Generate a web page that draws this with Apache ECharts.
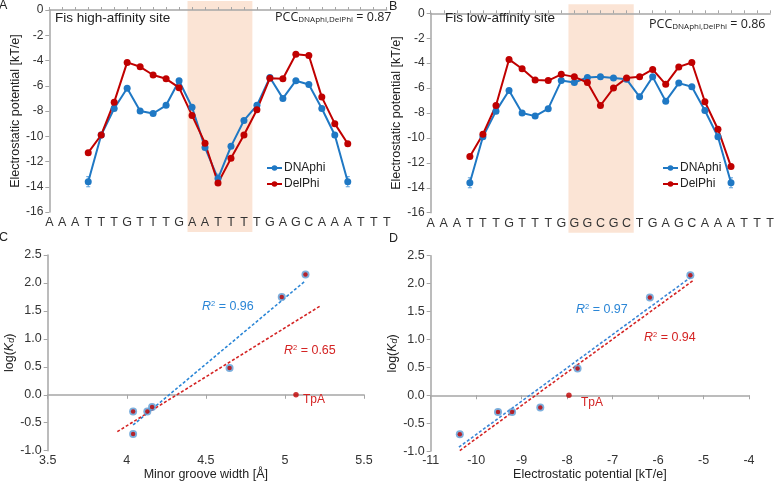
<!DOCTYPE html>
<html><head><meta charset="utf-8">
<script src="https://cdn.jsdelivr.net/npm/echarts@6/dist/echarts.min.js"></script>
<style>html,body{margin:0;padding:0;background:#fff}#c{width:777px;height:482px}</style>
</head><body><div id="c"></div>
<script>
// ---------- data ----------
const seqA = ['A','A','A','T','T','T','G','T','T','T','G','A','A','T','T','T','T','G','A','G','C','A','A','A','T','T','T'];
const seqB = ['A','A','A','T','T','T','G','T','T','T','G','G','G','C','G','C','T','G','A','G','C','A','A','A','T','T','T'];
const firstPos = 3; // first sequence position carrying a value
const dnaphiA = [-13.6,-9.9,-7.8,-6.2,-8.0,-8.2,-7.55,-5.6,-7.7,-10.9,-13.35,-10.8,-8.75,-7.55,-5.35,-7.0,-5.6,-5.9,-7.8,-9.9,-13.6];
const delphiA = [-11.3,-9.9,-7.3,-4.15,-4.5,-5.15,-5.45,-6.15,-8.35,-10.55,-13.7,-11.75,-9.9,-7.9,-5.4,-5.45,-3.5,-3.6,-6.9,-9.0,-10.6];
const dnaphiErrA = [0.4,0.1,0.1,0.1,0.1,0.1,0.1,0.1,0.1,0.15,0.35,0.1,0.1,0.1,0.1,0.1,0.1,0.1,0.1,0.1,0.4];
const dnaphiB = [-13.6,-9.9,-7.85,-6.2,-8.0,-8.25,-7.65,-5.4,-5.55,-5.15,-5.1,-5.2,-5.3,-6.7,-5.1,-7.05,-5.6,-5.9,-7.8,-9.9,-13.6];
const delphiB = [-11.5,-9.7,-7.4,-3.7,-4.45,-5.35,-5.4,-4.9,-5.1,-5.55,-7.4,-6.0,-5.2,-5.1,-4.5,-5.7,-4.3,-3.95,-7.1,-9.3,-12.3];
const dnaphiErrB = [0.4,0.1,0.1,0.1,0.1,0.1,0.1,0.1,0.1,0.1,0.1,0.1,0.1,0.1,0.1,0.1,0.1,0.1,0.1,0.15,0.4];
const shadeA = [10.65, 15.65];
const shadeB = [10.55, 15.55];

const logKd       = [-0.70, -0.30, -0.30, -0.22, 0.48, 1.75, 2.15];
const grooveWidth = [4.04, 4.04, 4.13, 4.16, 4.65, 4.98, 5.13];
const potential   = [-10.36, -9.52, -9.21, -8.59, -7.77, -6.18, -5.29];
const tpaLogKd = 0.0, tpaGroove = 5.07, tpaPotential = -7.96;
const trendGrooveBlue = [[4.04,-0.54],[5.13,2.04]];
const trendGrooveRed  = [[3.94,-0.66],[5.23,1.60]];
const trendPotBlue    = [[-10.38,-0.93],[-5.27,2.12]];
const trendPotRed     = [[-10.36,-0.99],[-5.22,2.06]];

// ---------- styles ----------
const BLUE = '#1f78c4', RED = '#c00000';
const TXT = '#222', AX = '#a6a6a6';
const FONT = 'Liberation Sans, Arial, sans-serif';
const shade = '#fbe4d5';

const chart = echarts.init(document.getElementById('c'), null, {renderer:'canvas'});

function seqAxis(grid, seq){
  return {type:'value', gridIndex:grid, min:0, max:26, interval:1,
    axisLine:{lineStyle:{color:AX,width:1.5}},
    axisTick:{inside:true,length:3,lineStyle:{color:AX}},
    splitLine:{show:false},
    axisLabel:{formatter:v=>seq[v]||'', color:'#333', fontSize:12.5, fontFamily:FONT, margin:4}};
}
function potAxis(grid, gap){
  return {type:'value', gridIndex:grid, min:-16, max:0, interval:2,
    name:'Electrostatic potential [kT/e]', nameLocation:'middle', nameGap:gap,
    nameTextStyle:{fontSize:12.5, color:TXT, fontFamily:FONT},
    axisLine:{show:true,lineStyle:{color:AX,width:1.5}},
    axisTick:{show:true,length:4,lineStyle:{color:AX}},
    splitLine:{show:false},
    axisLabel:{color:'#333', fontSize:12, fontFamily:FONT, margin:6}};
}
const kdName = '{n|log(}{i|K}{s|d}{n|)}';
const kdRich = {n:{fontSize:12.5,color:TXT,fontFamily:FONT}, i:{fontSize:12.5,fontStyle:'italic',color:TXT,fontFamily:FONT}, s:{fontSize:9,fontStyle:'italic',color:TXT,fontFamily:FONT,verticalAlign:'bottom'}};
function kdAxis(grid){
  return {type:'value', gridIndex:grid, min:-1, max:2.5, interval:0.5,
    name:kdName, nameLocation:'middle', nameGap:28,
    nameTextStyle:{rich:kdRich},
    axisLine:{show:true,lineStyle:{color:AX,width:1.5}},
    axisTick:{show:true,length:4,lineStyle:{color:AX}},
    splitLine:{show:false},
    axisLabel:{formatter:v=>v.toFixed(1), color:'#333', fontSize:12.5, fontFamily:FONT, margin:6}};
}
function lineSeries(name, vals, color, gi){
  return {type:'line', name, xAxisIndex:gi, yAxisIndex:gi, z:3,
    data: vals.map((v,i)=>[i+firstPos, v]),
    symbol:'circle', symbolSize:7, showSymbol:true,
    itemStyle:{color}, lineStyle:{color, width:2}};
}
function errSeries(vals, errs, gi){
  return {type:'custom', xAxisIndex:gi, yAxisIndex:gi, z:2, silent:true,
    data: vals.map((v,i)=>[i+firstPos, v, errs[i]]),
    renderItem(params, api){
      const x=api.value(0), y=api.value(1), e=api.value(2);
      const a=api.coord([x,y+e]), b=api.coord([x,y-e]);
      const st={stroke:'#5aa0dc',lineWidth:1};
      return {type:'group',children:[
        {type:'line',shape:{x1:a[0],y1:a[1],x2:b[0],y2:b[1]},style:st},
        {type:'line',shape:{x1:a[0]-2,y1:a[1],x2:a[0]+2,y2:a[1]},style:st},
        {type:'line',shape:{x1:b[0]-2,y1:b[1],x2:b[0]+2,y2:b[1]},style:st}]};
    }};
}
function trend(pts, color, gi){
  return {type:'line', xAxisIndex:gi, yAxisIndex:gi, data:pts, showSymbol:false, symbol:'none', silent:true, z:2,
    lineStyle:{color, width:1.6, type:[3,2]}};
}
function scatterSet(xs, gi){
  const d = xs.map((x,i)=>[x, logKd[i]]);
  return [
    {type:'scatter', xAxisIndex:gi, yAxisIndex:gi, data:d, symbolSize:8, itemStyle:{color:'#5b9bd5'}, z:4},
    {type:'scatter', xAxisIndex:gi, yAxisIndex:gi, data:d, symbolSize:4.5, itemStyle:{color:RED}, z:5}
  ];
}

const option = {
  backgroundColor:'#fff',
  animation:false,
  textStyle:{fontFamily:FONT},
  grid:[
    {left:49.3, top:10, width:337.4, height:202, containLabel:false},
    {left:430.7, top:13.3, width:340, height:199.4, containLabel:false},
    {left:47.7, top:255, width:316.3, height:195.7, containLabel:false},
    {left:430.7, top:255.7, width:318.3, height:195.6, containLabel:false}
  ],
  xAxis:[
    seqAxis(0, seqA), seqAxis(1, seqB),
    {type:'value', gridIndex:2, min:3.5, max:5.5, interval:0.5,
      name:'Minor groove width [Å]', nameLocation:'middle', nameGap:14,
      nameTextStyle:{fontSize:12.5,color:TXT,fontFamily:FONT},
      axisLine:{lineStyle:{color:AX,width:1.5}}, axisTick:{length:4,lineStyle:{color:AX}}, splitLine:{show:false},
      axisLabel:{color:'#333',fontSize:12.5,fontFamily:FONT,margin:3}},
    {type:'value', gridIndex:3, min:-11, max:-4, interval:1,
      name:'Electrostatic potential [kT/e]', nameLocation:'middle', nameGap:16,
      nameTextStyle:{fontSize:12.5,color:TXT,fontFamily:FONT},
      axisLine:{lineStyle:{color:AX,width:1.5}}, axisTick:{length:4,lineStyle:{color:AX}}, splitLine:{show:false},
      axisLabel:{color:'#333',fontSize:12.5,fontFamily:FONT,margin:3}}
  ],
  yAxis:[ potAxis(0, 27), potAxis(1, 21), kdAxis(2), kdAxis(3) ],
  legend:[
    {left:261, top:157, orient:'vertical', itemGap:4, itemWidth:15, itemHeight:7, data:['DNAphi','DelPhi'],
      textStyle:{fontSize:12,color:TXT,fontFamily:FONT,padding:[0,0,0,-3]}, selectedMode:false},
    {left:657, top:157, orient:'vertical', itemGap:4, itemWidth:15, itemHeight:7, data:['DNAphi','DelPhi'],
      textStyle:{fontSize:12,color:TXT,fontFamily:FONT,padding:[0,0,0,-3]}, selectedMode:false}
  ],
  series:[
    errSeries(dnaphiA, dnaphiErrA, 0),
    lineSeries('DNAphi', dnaphiA, BLUE, 0),
    lineSeries('DelPhi', delphiA, RED, 0),
    errSeries(dnaphiB, dnaphiErrB, 1),
    lineSeries('DNAphi', dnaphiB, BLUE, 1),
    lineSeries('DelPhi', delphiB, RED, 1),
    trend(trendGrooveBlue, '#2b86d6', 2),
    trend(trendGrooveRed, '#d42424', 2),
    ...scatterSet(grooveWidth, 2),
    {type:'scatter', xAxisIndex:2, yAxisIndex:2, data:[[tpaGroove,tpaLogKd]], symbolSize:5.5, itemStyle:{color:RED}, z:5},
    trend(trendPotBlue, '#3a86d6', 3),
    trend(trendPotRed, '#d42424', 3),
    ...scatterSet(potential, 3),
    {type:'scatter', xAxisIndex:3, yAxisIndex:3, data:[[tpaPotential,tpaLogKd]], symbolSize:5.5, itemStyle:{color:RED}, z:5}
  ]
};
chart.setOption(option);

function txt(id, x, y, text, size, color, extra){
  return {type:'text', id, x, y, z:10,
    style:Object.assign({text, fontSize:size, fill:color, fontFamily:FONT, textVerticalAlign:'middle'}, extra||{})};
}
const pccRich = {s:{fontSize:8, fontFamily:'Open Sans, sans-serif', fill:TXT, verticalAlign:'bottom', lineHeight:14}};
const r2Rich = (c)=>({i:{fontStyle:'italic',fontSize:12.5,fill:c,fontFamily:FONT}, p:{fontSize:7.5,fill:c,fontFamily:FONT,verticalAlign:'top',lineHeight:14}});

// shaded regions via library scale conversion
function shadeRect(id, gi, range){
  const p0 = chart.convertToPixel({gridIndex:gi}, [range[0], 0]);
  const p1 = chart.convertToPixel({gridIndex:gi}, [range[1], -16]);
  return {type:'rect', id, z:-10, silent:true,
    shape:{x:p0[0], y:p0[1]-9, width:p1[0]-p0[0], height:(p1[1]+20)-(p0[1]-9)},
    style:{fill:shade}};
}

chart.setOption({graphic:[
  shadeRect('shA', 0, shadeA),
  shadeRect('shB', 1, shadeB),
  txt('lA', -1, 6, 'A', 12.5, TXT),
  txt('lB', 389, 7, 'B', 12.5, TXT),
  txt('lC', -1, 238, 'C', 12.5, TXT),
  txt('lD', 389, 239, 'D', 12.5, TXT),
  txt('tA', 55, 18, 'Fis high-affinity site', 13.5, TXT),
  txt('tB', 445, 18, 'Fis low-affinity site', 13.5, TXT),
  txt('pA', 275, 17, 'PCC{s|DNAphi,DelPhi} = 0.87', 12.5, TXT, {fontFamily:'Open Sans, sans-serif', rich:pccRich}),
  txt('pB', 649, 24, 'PCC{s|DNAphi,DelPhi} = 0.86', 12.5, TXT, {fontFamily:'Open Sans, sans-serif', rich:pccRich}),
  txt('rC1', 202, 307, '{i|R}{p|2} = 0.96', 12.5, '#2b86d6', {rich:r2Rich('#2b86d6')}),
  txt('rC2', 284, 351, '{i|R}{p|2} = 0.65', 12.5, '#d42424', {rich:r2Rich('#d42424')}),
  txt('tpC', 303, 400, 'TpA', 12, '#d42424'),
  txt('rD1', 576, 310, '{i|R}{p|2} = 0.97', 12.5, '#2b86d6', {rich:r2Rich('#2b86d6')}),
  txt('rD2', 644, 338, '{i|R}{p|2} = 0.94', 12.5, '#d42424', {rich:r2Rich('#d42424')}),
  txt('tpD', 581, 403, 'TpA', 12, '#d42424')
]});
</script></body></html>
